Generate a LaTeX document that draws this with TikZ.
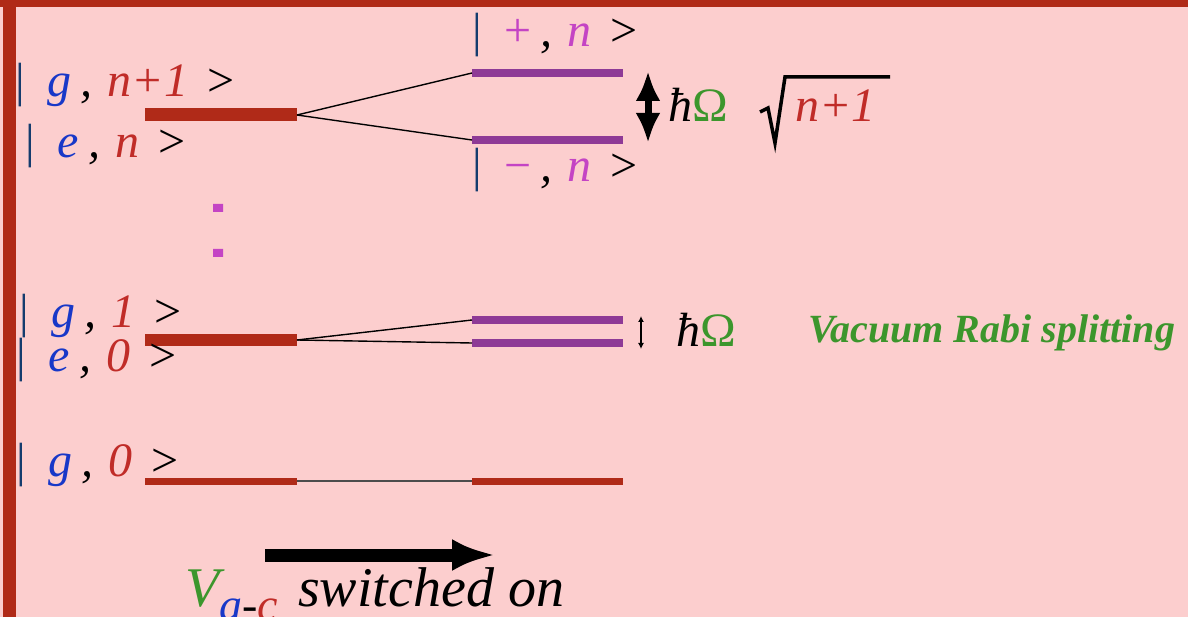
\documentclass[tikz,border=0pt]{standalone}
\usepackage{fontspec}
\setmainfont{Liberation Serif}
\usepackage{xcolor}
\usetikzlibrary{arrows.meta,positioning}
\definecolor{bgpink}{RGB}{252,206,206}
\definecolor{frame}{RGB}{176,42,23}
\definecolor{lvred}{RGB}{176,42,24}
\definecolor{polpurple}{RGB}{142,58,150}
\definecolor{kblue}{RGB}{24,56,200}
\definecolor{kred}{RGB}{192,44,40}
\definecolor{kmag}{RGB}{196,68,196}
\definecolor{kgreen}{RGB}{60,150,44}
\definecolor{kbar}{RGB}{20,60,110}
\newcommand{\kfont}{\fontsize{48}{54}\selectfont\itshape}
% | first , second >
\newcommand{\ketlbl}[4]{{\color{kbar}\upshape|}\hspace{23pt}{\color{#1}#2}\hspace{9pt},\hspace{15pt}{\color{#3}#4}\hspace{16pt}>}

\begin{document}
\begin{tikzpicture}[x=1pt,y=-1pt,>=Latex,
 ket/.style={font=\kfont,anchor=base west,inner sep=0pt},
 lvl/.style={draw=lvred,line width=#1},
 pol/.style={draw=polpurple,line width=8pt},
 mix/.style={draw=black,line width=1.4pt}]
\useasboundingbox (0,0) rectangle (1188,617);
% Background and frame.
\fill[bgpink] (0,0) rectangle (1188,617);
\fill[frame] (0,0) rectangle (1188,7);
\fill[frame] (3,0) rectangle (16,617);

% Level end points.
\coordinate (nL) at (145,115);  \coordinate (nR) at (297,115);
\coordinate (pL) at (472,73);   \coordinate (pR) at (623,73);
\coordinate (mL) at (472,140);  \coordinate (mR) at (623,140);
\coordinate (oL) at (145,340);  \coordinate (oR) at (297,340);
\coordinate (opL) at (472,320); \coordinate (opR) at (623,320);
\coordinate (omL) at (472,343); \coordinate (omR) at (623,343);
\coordinate (gL) at (145,481);  \coordinate (gR) at (297,481);
\coordinate (hL) at (472,481);  \coordinate (hR) at (623,481);

% Bare levels.
\draw[lvl=13pt] (nL)--(nR);
\draw[lvl=12pt] (oL)--(oR);
\draw[lvl=7pt] (gL)--(gR);
\draw[lvl=7pt] (hL)--(hR);
% Dressed levels.
\draw[pol] (pL)--(pR);
\draw[pol] (mL)--(mR);
\draw[pol] (opL)--(opR);
\draw[pol] (omL)--(omR);
% Correlation lines.
\draw[mix] (nR)--(pL);
\draw[mix] (nR)--(mL);
\draw[mix] (oR)--(opL);
\draw[mix] (oR)--(omL);
\draw[draw=black!70,line width=1.4pt] (gR)--(hL);

% Kets.
\node[ket] (kgn1) at (15,97) {\ketlbl{kblue}{g}{kred}{n+1}};
\node[ket] (ken) at (25,158) {\ketlbl{kblue}{e}{kred}{n}};
\node[ket] (kpn) at (472,47) {\ketlbl{kmag}{\upshape +}{kmag}{n}};
\node[ket] (kmn) at (472,182) {\ketlbl{kmag}{\upshape −}{kmag}{n}};
\node[ket] (kg1) at (19,327) {\ketlbl{kblue}{g}{kred}{1}};
\node[ket] (ke0) at (16,371) {\ketlbl{kblue}{e}{kred}{0}};
\node[ket] (kg0) at (16,476) {\ketlbl{kblue}{g}{kred}{0}};

% Ellipsis dots.
\fill[kmag] (213,204) rectangle (223,212) (213,249) rectangle (223,257);

% Splittings.
\coordinate (sT) at (648,71);  \coordinate (sB) at (648,143);
\draw[{Latex[length=30pt,width=25pt]}-{Latex[length=30pt,width=25pt]},line width=7pt] (sT)--(sB);
\node[ket] (rabin) at (668,122) {ħ\textcolor{kgreen}{\upshape Ω}};
\node[ket,text=kred] (nplus) at (795,122) {n+1};
\draw[line width=3.5pt,line join=miter] (760,112)--(768,108)--(775,143)--(785,77)--(890,77);
\coordinate (vT) at (641,316); \coordinate (vB) at (641,349);
\draw[{Latex[length=6pt,width=6pt]}-{Latex[length=6pt,width=6pt]},line width=1.2pt] (vT)--(vB);
\node[ket] (rabi0) at (676,347) {ħ\textcolor{kgreen}{\upshape Ω}};
\node[ket,font=\fontsize{40}{46}\selectfont\bfseries\itshape,text=kgreen]
 (vrs) at (808,342) {Vacuum Rabi splitting};

% Interaction switched on.
\coordinate (aS) at (265,555); \coordinate (aE) at (495,555);
\draw[-{Latex[length=43pt,width=32pt]},line width=13pt] (aS)--(aE);
\node[ket,font=\fontsize{56}{62}\selectfont\itshape] (won) at (185,606)
 {\textcolor{kgreen}{V}\raisebox{-14pt}{\fontsize{46}{50}\selectfont\textcolor{kblue}{a}-\textcolor{kred}{c}}\hspace{20pt}switched on};
\end{tikzpicture}
\end{document}
